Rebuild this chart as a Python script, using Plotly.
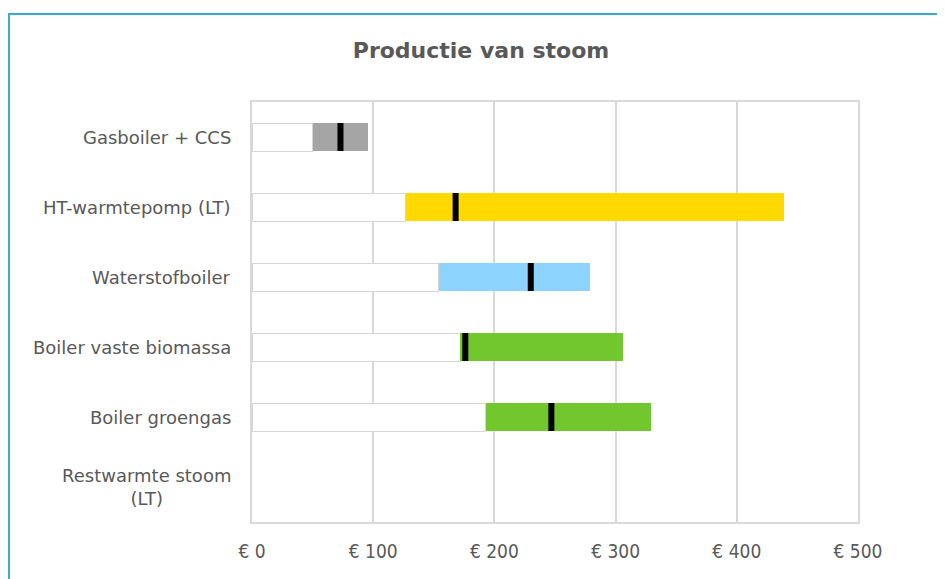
import plotly.graph_objects as go

categories = ["Gasboiler + CCS", "HT-warmtepomp (LT)", "Waterstofboiler",
              "Boiler vaste biomassa", "Boiler groengas", "Restwarmte stoom<br>(LT)"]
low_values = [50, 127, 154, 172, 193, None]
high_values = [96, 439, 279, 306, 329, None]
mid_values = [73, 168, 230, 176, 247, None]
bar_colors = ["#a5a5a5", "#ffd900", "#8dd3ff", "#72c72f", "#72c72f", "#ffffff"]
x_ticks = [0, 100, 200, 300, 400, 500]
x_tick_labels = ["€ 0", "€ 100", "€ 200", "€ 300", "€ 400", "€ 500"]

spans = [None if lo is None else hi - lo for lo, hi in zip(low_values, high_values)]
text_color = "#595959"
grid_color = "#d9d9d9"

fig = go.Figure()

# invisible base part (white with faint edge lines)
fig.add_trace(go.Bar(
    y=categories, x=low_values, orientation="h",
    marker=dict(color="#ffffff", line=dict(color="#d6d6d6", width=1)),
    width=0.4, showlegend=False, hoverinfo="skip",
))
# coloured range
fig.add_trace(go.Bar(
    y=categories, x=spans, orientation="h",
    marker=dict(color=bar_colors, line=dict(width=0)),
    width=0.4, showlegend=False,
))
# central value tick
fig.add_trace(go.Scatter(
    y=categories, x=mid_values, mode="markers",
    marker=dict(symbol="line-ns", size=20, line=dict(color="#000000", width=6)),
    showlegend=False,
))

for cat in categories:
    fig.add_annotation(
        x=-0.032, xref="paper", y=cat, yref="y", text=cat,
        showarrow=False, xanchor="right", align="center",
        font=dict(family="DejaVu Sans", size=18, color=text_color),
    )

# outer blue frame
fig.add_shape(
    type="rect", xref="paper", yref="paper",
    x0=(9 - 252) / 606, x1=(941 - 252) / 606,
    y0=(522 - 600) / 420, y1=(522 - 14) / 420,
    line=dict(color="#3aa8d8", width=2), fillcolor="rgba(0,0,0,0)", layer="below",
)

fig.update_layout(
    width=937, height=571,
    margin=dict(l=244, r=87, t=94, b=57),
    paper_bgcolor="#ffffff", plot_bgcolor="#ffffff",
    barmode="stack",
    bargap=0.6,
    title=dict(
        text="<b>Productie van stoom</b>",
        x=(481 - 8) / 937, xref="container", xanchor="center",
        y=1 - (50 - 8) / 571, yref="container", yanchor="middle",
        font=dict(family="DejaVu Sans", size=22, color=text_color),
    ),
    xaxis=dict(
        range=[0, 500], tickvals=x_ticks, ticktext=x_tick_labels,
        showgrid=True, gridcolor=grid_color, gridwidth=1.5,
        showline=True, linecolor=grid_color, linewidth=1.5, mirror=True,
        zeroline=False, ticks="", ticklabelstandoff=11,
        tickfont=dict(family="DejaVu Sans Condensed", size=19, color=text_color),
        fixedrange=True,
    ),
    yaxis=dict(
        categoryorder="array", categoryarray=categories, autorange="reversed",
        showticklabels=False, showgrid=False,
        showline=True, linecolor=grid_color, linewidth=1.5, mirror=True,
        zeroline=False, fixedrange=True,
    ),
)

fig.write_html("out.html")
